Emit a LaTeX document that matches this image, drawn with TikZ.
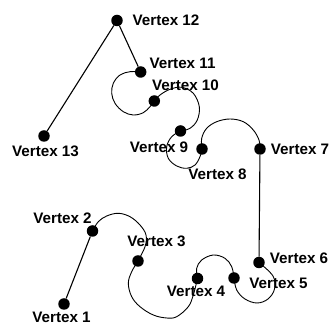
\documentclass[tikz,border=0pt]{standalone}
\usepackage{fontspec}
\setmainfont{Liberation Sans}
\begin{document}
\begin{tikzpicture}[x=1pt,y=1pt,
  dot/.style={circle,fill=black,inner sep=0pt,minimum size=11.5pt},
  lab/.style={inner sep=0pt,font=\fontsize{15.2}{15}\selectfont\bfseries},
  edge/.style={line width=1.1pt},
  curve/.style={line width=0.9pt}]
\useasboundingbox (0,0) rectangle (333,327);
% vertices
\node[dot] (v1) at (64,23) {};
\node[dot] (v2) at (92.5,96) {};
\node[dot] (v3) at (138,66) {};
\node[dot] (v4) at (197.5,48.5) {};
\node[dot] (v5) at (234,49) {};
\node[dot] (v6) at (259,64.5) {};
\node[dot] (v7) at (260,178) {};
\node[dot] (v8) at (202,178) {};
\node[dot] (v9) at (180.5,196) {};
\node[dot] (v10) at (154.3,226) {};
\node[dot] (v11) at (140.7,255) {};
\node[dot] (v12) at (117,306.5) {};
\node[dot] (v13) at (44,191) {};
% labels
\node[lab] (l1) at (61.5,9.5) {Vertex 1};
\node[lab] (l2) at (62.5,109) {Vertex 2};
\node[lab] (l3) at (156.5,86) {Vertex 3};
\node[lab] (l4) at (196,35.5) {Vertex 4};
\node[lab] (l5) at (278.5,43.5) {Vertex 5};
\node[lab] (l6) at (299,68.5) {Vertex 6};
\node[lab] (l7) at (300,178) {Vertex 7};
\node[lab] (l8) at (217.5,152.5) {Vertex 8};
\node[lab] (l9) at (159,180) {Vertex 9};
\node[lab] (l10) at (185.5,241.7) {Vertex 10};
\node[lab] (l11) at (182.5,264) {Vertex 11};
\node[lab] (l12) at (166,307) {Vertex 12};
\node[lab] (l13) at (45.5,176) {Vertex 13};
% straight connectors
\draw[edge] (v1) -- (v2);
\draw[edge] (v6) -- (v7);
\draw[edge] (v11) -- (v12);
\draw[edge] (v12) -- (v13);
% curved connectors
\draw[curve] plot[smooth,tension=0.6] coordinates {(v2) (98.3,105.3) (106.7,111) (118.3,113.7) (130,110.3) (140,102) (146,92) (145,80.3) (v3)};
\draw[curve] plot[smooth,tension=0.6] coordinates {(v3) (131.7,55.3) (128.3,43.7) (131.7,30.3) (140,20.3) (153.3,12) (166.7,9) (176.7,10.3) (188.3,20.3) (193.3,32) (v4)};
\draw[curve] plot[smooth,tension=0.6] coordinates {(v4) (196.7,58.7) (201.7,67) (213.3,72) (225,68.7) (231.7,60.3) (v5)};
\draw[curve] plot[smooth,tension=0.6] coordinates {(v5) (236.7,37) (245,28) (257,24) (268,28) (274.5,38) (273,51) (v6)};
\draw[curve] plot[smooth,tension=0.6] coordinates {(v7) (259,187) (253.3,197) (243.3,205.3) (230,208) (216.7,205.3) (206.7,198.7) (201.7,188.7) (v8)};
\draw[curve] plot[smooth,tension=0.6] coordinates {(v8) (200,170.3) (195,162) (186.7,158.7) (176.7,161) (168.3,168.7) (166.7,180.3) (171.7,190.3) (v9)};
\draw[curve] plot[smooth,tension=0.6] coordinates {(v9) (190,198.7) (197.3,207) (199.3,220.3) (193.3,233.7) (181.7,239.7) (170,237.7) (160,232) (v10)};
\draw[curve] plot[smooth,tension=0.6] coordinates {(v10) (150,220.3) (143.3,214.3) (133.3,212) (123.3,215.3) (115,223.7) (111.7,233.7) (113.3,243.7) (120,252) (130,255.3) (v11)};
\end{tikzpicture}
\end{document}
